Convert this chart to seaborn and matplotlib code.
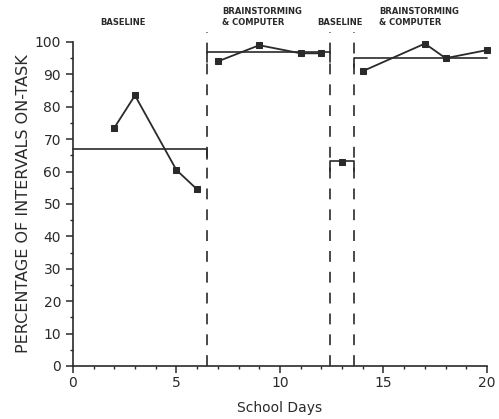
import numpy as np
import pandas as pd
import matplotlib
matplotlib.use("Agg")
import matplotlib.pyplot as plt
import seaborn as sns
from matplotlib.ticker import MultipleLocator

# ---- data ----
days = [2, 3, 5, 6, 7, 9, 11, 12, 13, 14, 17, 18, 20]
pct = [73.5, 83.5, 60.5, 54.5, 94, 99, 96.5, 96.5, 63, 91, 99.5, 95, 97.5]
phase = [1, 1, 1, 1, 2, 2, 2, 2, 3, 4, 4, 4, 4]

phase_labels = ["BASELINE", "BRAINSTORMING\n& COMPUTER", "BASELINE", "BRAINSTORMING\n& COMPUTER"]
phase_start = [0, 6.5, 12.4, 13.6]
phase_end = [6.5, 12.4, 13.6, 20]
phase_mean = [67, 96.8, 63.2, 95.2]
phase_changes = [6.5, 12.4, 13.6]

df = pd.DataFrame({"day": days, "pct": pct, "phase": phase})

sns.set_style("ticks")
plt.rcParams["font.family"] = ["DejaVu Sans"]

fig = plt.figure(figsize=(4.99, 4.19), dpi=100)
ax = fig.add_axes([0.146, 0.1265, 0.830, 0.7733])

ink = "#2a2a2a"
sns.lineplot(data=df, x="day", y="pct", units="phase", estimator=None,
             color=ink, marker="s", markersize=5, markeredgecolor=ink,
             linewidth=1.3, ax=ax, legend=False, clip_on=False)

# phase mean lines with bracket ends
brk = 3.0
left_brk = [False, True, True, True]
right_brk = [True, True, True, False]
for s, e, m, lb, rb in zip(phase_start, phase_end, phase_mean, left_brk, right_brk):
    xs = [s, e]
    ys = [m, m]
    if lb:
        xs = [s] + xs
        ys = [m - brk] + ys
    if rb:
        xs = xs + [e]
        ys = ys + [m - brk]
    ax.plot(xs, ys, color=ink, linewidth=1.2, clip_on=False)

for c in phase_changes:
    ax.plot([c, c], [0, 103], color=ink, linewidth=1.2, linestyle=(0, (6.5, 6)),
            clip_on=False)

# phase labels
lab_x = [2.4, 7.2, 11.8, 14.8]
lab_ha = ["center", "left", "left", "left"]
for t, x, ha in zip(phase_labels, lab_x, lab_ha):
    ax.text(x, 104.5, t, ha=ha, va="bottom", fontsize=6, fontweight="bold",
            color=ink, linespacing=1.35)

ax.set_xlim(0, 20)
ax.set_ylim(0, 100)
ax.set_xticks([0, 5, 10, 15, 20])
ax.set_yticks(np.arange(0, 101, 10))
ax.xaxis.set_minor_locator(MultipleLocator(1))
ax.yaxis.set_minor_locator(MultipleLocator(5))
ax.tick_params(axis="both", which="major", labelsize=10, colors=ink, length=5,
               width=1.1)
ax.tick_params(axis="x", which="major", pad=2)
ax.tick_params(axis="both", which="minor", length=2.5, width=1.0, colors=ink)
for sp in ["left", "bottom"]:
    ax.spines[sp].set_color(ink)
    ax.spines[sp].set_linewidth(1.2)
sns.despine(ax=ax)

ax.set_xlabel("School Days", fontsize=10, color=ink, labelpad=8)
ax.set_ylabel("PERCENTAGE OF INTERVALS ON-TASK", fontsize=11.5, color=ink,
              labelpad=3)

fig.savefig("out.png", dpi=100)
